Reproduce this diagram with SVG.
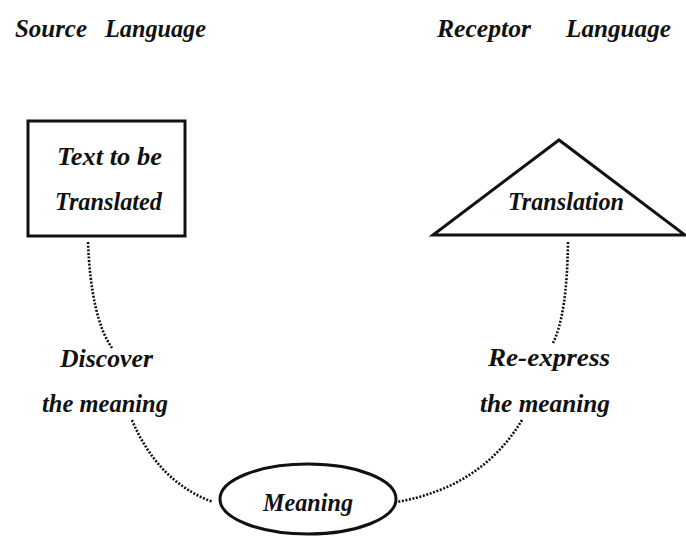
<svg xmlns="http://www.w3.org/2000/svg" width="686" height="537" viewBox="0 0 686 537">
<style>
.t{font-family:"Liberation Serif","Times New Roman",serif;font-weight:bold;font-style:italic;font-size:25px;fill:#111}
.shape{fill:none;stroke:#111;stroke-width:3}
.dot{fill:none;stroke:#111;stroke-width:2.6;stroke-dasharray:2 1.6}
</style>
<rect width="686" height="537" fill="#fff"/>
<text class="t" x="15" y="37" textLength="72" lengthAdjust="spacingAndGlyphs">Source</text>
<text class="t" x="105" y="37" textLength="101" lengthAdjust="spacingAndGlyphs">Language</text>
<text class="t" x="437" y="37" textLength="94" lengthAdjust="spacingAndGlyphs">Receptor</text>
<text class="t" x="566" y="37" textLength="105" lengthAdjust="spacingAndGlyphs">Language</text>
<g id="source">
<rect class="shape" x="28" y="121" width="157" height="115"/>
<text class="t" x="57" y="165" textLength="105" lengthAdjust="spacingAndGlyphs">Text to be</text>
<text class="t" x="55" y="210" textLength="107" lengthAdjust="spacingAndGlyphs">Translated</text>
</g>
<g id="translation">
<polygon class="shape" points="559,140 433,235 685,235" stroke-linejoin="miter"/>
<text class="t" x="508" y="210" textLength="116" lengthAdjust="spacingAndGlyphs">Translation</text>
</g>
<g id="meaning">
<ellipse class="shape" cx="308" cy="499" rx="88" ry="35"/>
<text class="t" x="263" y="511" textLength="90" lengthAdjust="spacingAndGlyphs">Meaning</text>
</g>
<g id="connectors">
<path class="dot" d="M88,242 Q91,318 112,348"/>
<path class="dot" d="M132,420 Q158,482 213,502"/>
<path class="dot" d="M568,242 Q567,315 553,343"/>
<path class="dot" d="M522,420 Q482,487 397,502"/>
</g>
<g id="labels">
<text class="t" x="60" y="367" textLength="93" lengthAdjust="spacingAndGlyphs">Discover</text>
<text class="t" x="42" y="412" textLength="126" lengthAdjust="spacingAndGlyphs">the meaning</text>
<text class="t" x="488" y="366" textLength="122" lengthAdjust="spacingAndGlyphs">Re-express</text>
<text class="t" x="480" y="412" textLength="130" lengthAdjust="spacingAndGlyphs">the meaning</text>
</g>
</svg>
